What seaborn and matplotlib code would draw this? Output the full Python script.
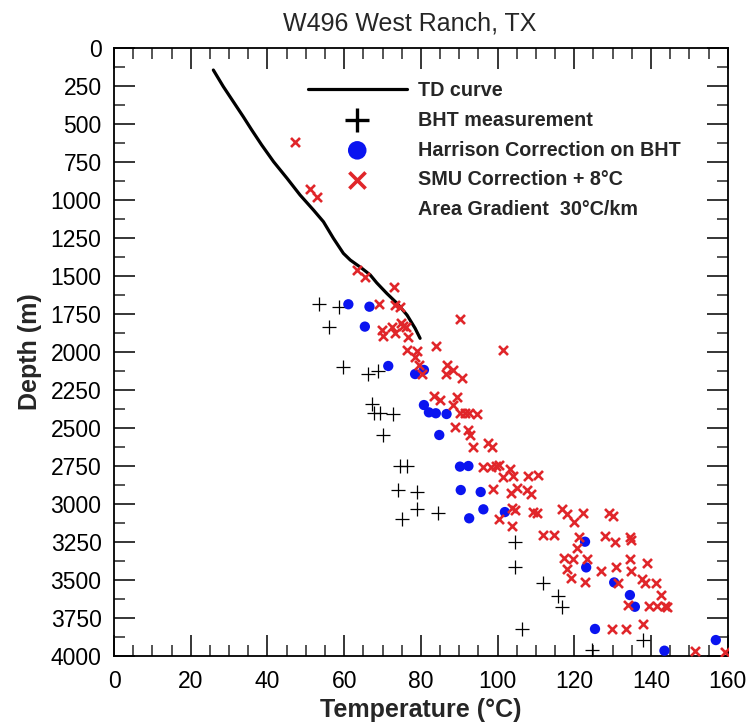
import matplotlib
matplotlib.use("Agg")
import matplotlib.pyplot as plt
from matplotlib.ticker import MultipleLocator
from matplotlib.lines import Line2D
import seaborn as sns

# ---------------- data ----------------
td_temp = [25.9, 28.5, 31.1, 33.7, 35.9, 38.5, 41.6, 45.1, 48.5, 52.0, 54.6, 57.2,
           59.8, 61.6, 64.6, 66.8, 68.5, 71.1, 73.8, 76.4, 78.5, 79.8]
td_depth = [145, 254, 353, 452, 539, 638, 748, 857, 967, 1066, 1143, 1252,
            1351, 1395, 1449, 1493, 1545, 1614, 1680, 1757, 1844, 1910]

bht_temp = [53.5, 58.7, 56.1, 59.8, 66.3, 68.9, 67.2, 67.9, 69.3, 72.8, 70.2, 74.6,
            76.3, 74.1, 78.9, 78.9, 75.2, 84.5, 104.5, 104.5, 106.3, 111.8, 115.8,
            116.9, 124.5, 138.0]
bht_depth = [1684, 1706, 1838, 2096, 2145, 2123, 2342, 2399, 2403, 2408, 2546, 2750,
             2750, 2908, 2921, 3035, 3097, 3056, 3248, 3412, 3822, 3518, 3603,
             3676, 3961, 3895]

harrison_temp = [61.1, 66.6, 65.4, 71.5, 78.5, 80.8, 80.8, 82.1, 83.9, 86.7, 84.8,
                 90.2, 92.4, 90.4, 95.6, 96.3, 92.6, 101.9, 122.8, 123.1, 130.4,
                 134.5, 135.8, 125.4, 143.5, 156.9]
harrison_depth = [1686, 1702, 1833, 2092, 2145, 2118, 2349, 2397, 2403, 2408, 2546,
                  2754, 2750, 2908, 2921, 3035, 3094, 3053, 3248, 3417, 3516,
                  3599, 3676, 3822, 3965, 3895]

smu_temp = [47.2, 51.1, 52.8, 63.3, 65.4, 73.1, 69.1, 73.3, 74.6, 90.2, 69.8, 70.2,
            72.4, 73.3, 74.7, 75.4, 76.1, 76.7, 76.5, 79.1, 78.5, 83.9, 101.5, 79.6,
            80.2, 86.7, 88.5, 86.6, 90.6, 83.4, 85.0, 89.5, 88.5, 90.2, 91.5, 92.5,
            94.7, 88.9, 92.4, 92.8, 93.7, 97.6, 98.5, 96.1, 98.2, 99.6, 100.5, 103.2,
            101.3, 104.1, 108.0, 110.6, 98.7, 103.4, 105.0, 107.8, 108.6, 100.5,
            103.7, 104.6, 109.3, 110.4, 116.7, 118.0, 119.8, 122.4, 103.7, 111.8,
            114.7, 121.1, 129.1, 130.2, 120.8, 128.0, 130.6, 134.5, 134.7, 117.3,
            119.6, 123.4, 118.0, 119.1, 122.8, 127.0, 130.9, 134.7, 134.5, 139.0,
            137.6, 138.4, 141.3, 131.5, 142.5, 133.9, 139.6, 141.5, 143.7, 144.1,
            138.0, 129.8, 133.4, 151.5, 159.3]
smu_depth = [620, 928, 978, 1461, 1505, 1574, 1684, 1691, 1706, 1783, 1855, 1895,
             1838, 1877, 1807, 1829, 1838, 1903, 1987, 1993, 2035, 1961, 1987, 2086,
             2145, 2086, 2118, 2145, 2173, 2289, 2316, 2294, 2349, 2399, 2399, 2402,
             2408, 2491, 2513, 2546, 2623, 2601, 2623, 2754, 2754, 2750, 2743, 2772,
             2820, 2816, 2816, 2809, 2903, 2925, 2897, 2908, 2934, 3101,
             3029, 3040, 3051, 3057, 3035, 3066, 3116, 3057, 3145, 3204,
             3204, 3219, 3061, 3079, 3291, 3211, 3248, 3215, 3237, 3357,
             3364, 3362, 3430, 3489, 3511, 3439, 3417, 3439, 3362, 3386,
             3496, 3518, 3518, 3522, 3599, 3664, 3671, 3671, 3671, 3676,
             3789, 3822, 3822, 3965, 3972]

labels = ["TD curve", "BHT measurement", "Harrison Correction on BHT",
          "SMU Correction + 8\u00b0C", "Area Gradient  30\u00b0C/km"]
x_ticks = list(range(0, 161, 20))
y_ticks = list(range(0, 4001, 250))

# ---------------- style ----------------
sns.set_style("ticks")
plt.rcParams["font.family"] = ["Liberation Sans", "DejaVu Sans"]
plt.rcParams["axes.linewidth"] = 1.2

fig = plt.figure(figsize=(7.52, 7.26), dpi=100)
ax = fig.add_axes([0.1516, 0.0964, 0.8161, 0.8375])

sns.lineplot(x=td_temp, y=td_depth, ax=ax, color="black", linewidth=2.3,
             estimator=None, sort=False, label=labels[0])
sns.scatterplot(x=bht_temp, y=bht_depth, ax=ax, marker="+", s=90, color="black",
                linewidth=0.9, label=labels[1], zorder=3)
sns.scatterplot(x=harrison_temp, y=harrison_depth, ax=ax, marker="o", s=55,
                color="#0a14f0", edgecolor="none", label=labels[2], zorder=4)
sns.scatterplot(x=smu_temp, y=smu_depth, ax=ax, marker="x", s=42, color="#e0262a",
                linewidth=1.9, label=labels[3], zorder=5)

ax.set_xlim(0, 160)
ax.set_ylim(4000, 0)
ax.set_xticks(x_ticks)
ax.set_yticks(y_ticks)
ax.xaxis.set_minor_locator(MultipleLocator(5))
ax.yaxis.set_minor_locator(MultipleLocator(125))
ax.tick_params(which="major", direction="in", top=True, right=True, length=15,
               width=1.1, labelsize=16.5, pad=9, colors="black")
ax.tick_params(which="minor", direction="in", top=True, right=True, length=8,
               width=1.1)
ax.tick_params(axis="x", which="major", pad=10)
for s in ax.spines.values():
    s.set_color("black")
    s.set_linewidth(1.3)

ax.set_xlabel("Temperature (\u00b0C)", fontsize=18, fontweight="bold", labelpad=4)
ax.set_ylabel("Depth (m)", fontsize=18, fontweight="bold", labelpad=6)
fig.text(0.545, 0.968, "W496 West Ranch, TX", fontsize=18, ha="center", va="center")

handles, lbls = ax.get_legend_handles_labels()
handles.append(Line2D([], [], linestyle="none"))
lbls.append(labels[4])
leg = ax.legend(handles, lbls, loc="upper left", bbox_to_anchor=(0.316, 0.946),
                frameon=False, borderpad=0, borderaxespad=0, handlelength=5,
                handletextpad=0.6, labelspacing=0.55, markerscale=1.8,
                prop={"weight": "bold", "size": 14.2})
lh = leg.legend_handles
lh[1].set_linewidth(2.4)
lh[3].set_linewidth(2.6)

fig.savefig("out.png", dpi=100, facecolor="white")
